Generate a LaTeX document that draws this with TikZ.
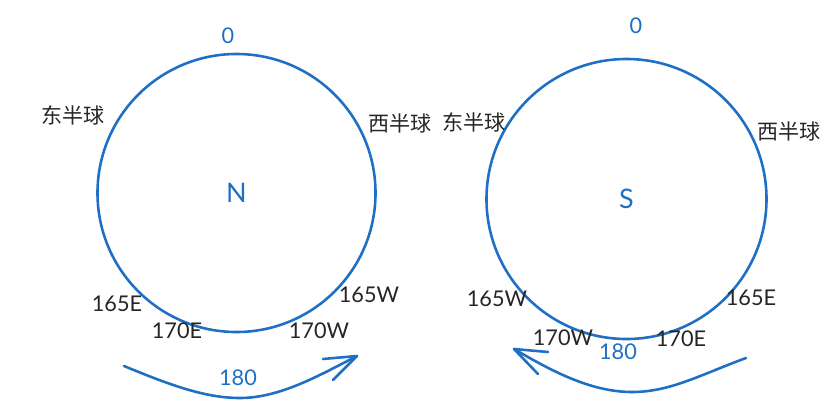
\documentclass[tikz,border=0pt]{standalone}
\usepackage{fontspec}
\setmainfont{Lato}
\newfontfamily\cjk{Noto Sans CJK SC}
\definecolor{penblue}{HTML}{1F6FC4}
\definecolor{inkgray}{HTML}{262626}
\tikzset{
  lab/.style={text=inkgray,font=\fontsize{18.5}{21}\selectfont,inner sep=0pt},
  bluelab/.style={text=penblue,font=\fontsize{18.5}{21}\selectfont,inner sep=0pt},
  pole/.style={text=penblue,font=\fontsize{23}{26}\selectfont,inner sep=0pt},
  hemi/.style={text=inkgray,font=\cjk\fontsize{18}{21}\selectfont,inner sep=0pt},
  pen/.style={draw=penblue,line width=2.2pt,line cap=round,line join=round}
}
\begin{document}
\begin{tikzpicture}[x=0.03cm,y=-0.03cm]
  \useasboundingbox (0,0) rectangle (827,412);
      \coordinate (cN) at (236.5, 193);
         \coordinate (cS) at (626.5, 199);
           \coordinate (L0) at (124, 366);
             \coordinate (L1) at (240, 398);
               \coordinate (L2) at (357, 356);
                 \coordinate (La) at (323, 359);
                   \coordinate (Lb) at (333, 380);
                 \coordinate (R0) at (746, 358);
                   \coordinate (R1) at (632, 392);
                     \coordinate (R2) at (514, 349);
                       \coordinate (Ra) at (548, 352);
                         \coordinate (Rb) at (538, 374);
  % north pole view
  \draw[pen] (cN) circle [radius=4.17cm];
       \node[bluelab] (n0) at (228,36) {0};
         \node[pole] (nN) at (cN) {N};
            \node[hemi] (nE) at (73,115) {东半球};
               \node[hemi] (nW) at (400,123) {西半球};
             \node[lab] (n165E) at (117,304) {165E};
          \node[lab] (n170E) at (177,331) {170E};
        \node[lab] (n170W) at (319,331) {170W};
      \node[lab] (n165W) at (369,295) {165W};
    \node[bluelab] (n180) at (238,378) {180};
  \draw[pen] (L0) .. controls (170,385) and (205,398) .. (L1) .. controls (280,398) and (320,375) .. (L2);
  \draw[pen] (La)--(L2)--(Lb);
  % south pole view
  \draw[pen] (cS) circle [radius=4.2cm];
       \node[bluelab] (s0) at (636,26) {0};
         \node[pole] (sS) at (cS) {S};
            \node[hemi] (sE) at (474,122) {东半球};
               \node[hemi] (sW) at (789,131) {西半球};
             \node[lab] (s165W) at (497,299) {165W};
          \node[lab] (s170W) at (563,338) {170W};
        \node[bluelab] (s180) at (618,352) {180};
      \node[lab] (s170E) at (681,339) {170E};
    \node[lab] (s165E) at (751,298) {165E};
  \draw[pen] (R0) .. controls (700,375) and (670,392) .. (R1) .. controls (590,392) and (550,370) .. (R2);
  \draw[pen] (Ra)--(R2)--(Rb);
\end{tikzpicture}
\end{document}
